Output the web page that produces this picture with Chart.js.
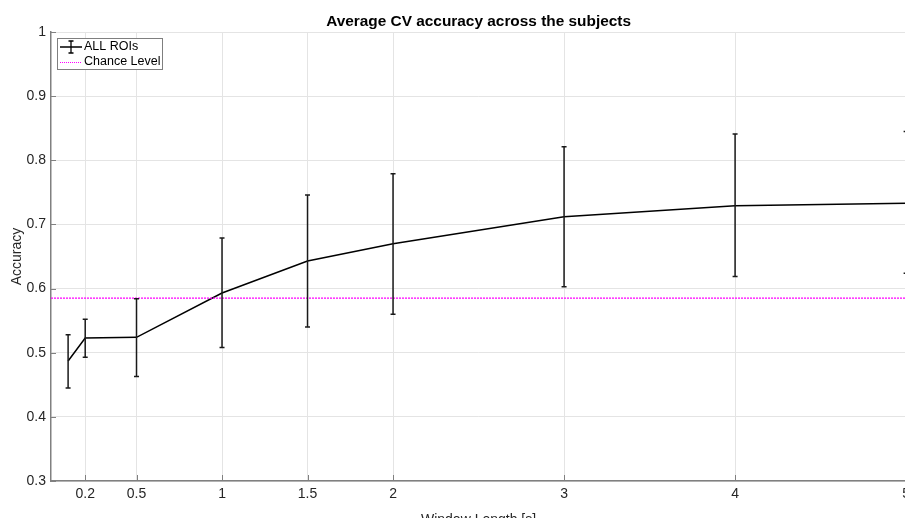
<!DOCTYPE html>
<html>
<head>
<meta charset="utf-8">
<script src="https://cdn.jsdelivr.net/npm/chart.js@4.4.0/dist/chart.umd.min.js"></script>
<style>
html, body { margin: 0; padding: 0; overflow: hidden; background: #fff; }
#wrap { position: absolute; left: 0; top: 0; width: 915px; height: 530px; }
</style>
</head>
<body>
<div id="wrap"><canvas id="accChart" width="915" height="530"></canvas></div>
<script>
// window length [s] and mean CV accuracy with error bar ends
const windowLength = [0.1, 0.2, 0.5, 1, 1.5, 2, 3, 4, 5];
const meanAcc = [0.487, 0.523, 0.524, 0.593, 0.643, 0.670, 0.712, 0.729, 0.733];
const accLower = [0.445, 0.493, 0.463, 0.508, 0.540, 0.560, 0.603, 0.619, 0.624];
const accUpper = [0.528, 0.552, 0.584, 0.679, 0.746, 0.779, 0.821, 0.841, 0.845];
const chanceLevel = 0.585;
const xTicks = [0.2, 0.5, 1, 1.5, 2, 3, 4, 5];
const chartTitle = 'Average CV accuracy across the subjects';

const FONT = "'Liberation Sans', Arial, sans-serif";
const AXIS_COLOR = '#808080';

const errorBars = {
    id: 'errorBars',
    afterDatasetsDraw(chart) {
        const ctx = chart.ctx;
        const x = chart.scales.x, y = chart.scales.y;
        ctx.save();
        ctx.strokeStyle = '#1a1a1a';
        ctx.lineWidth = 1.5;
        windowLength.forEach(function(w, i) {
            const px = x.getPixelForValue(w);
            const top = y.getPixelForValue(accUpper[i]);
            const bot = y.getPixelForValue(accLower[i]);
            ctx.beginPath();
            ctx.moveTo(px, top); ctx.lineTo(px, bot);
            ctx.moveTo(px - 2.5, top); ctx.lineTo(px + 2.5, top);
            ctx.moveTo(px - 2.5, bot); ctx.lineTo(px + 2.5, bot);
            ctx.stroke();
        });
        ctx.restore();
    }
};

// matlab style ticks pointing into the axes, title over the plot area, boxed legend
const axesExtras = {
    id: 'axesExtras',
    afterDraw(chart) {
        const ctx = chart.ctx;
        const x = chart.scales.x, y = chart.scales.y;
        const area = chart.chartArea;
        ctx.save();
        ctx.strokeStyle = AXIS_COLOR;
        ctx.lineWidth = 1;
        ctx.beginPath();
        y.ticks.forEach(function(t) {
            const py = Math.round(y.getPixelForValue(t.value)) + 0.5;
            ctx.moveTo(area.left, py); ctx.lineTo(area.left + 5, py);
        });
        x.ticks.forEach(function(t) {
            const px = Math.round(x.getPixelForValue(t.value)) + 0.5;
            ctx.moveTo(px, area.bottom); ctx.lineTo(px, area.bottom - 6);
        });
        ctx.stroke();

        ctx.fillStyle = '#000';
        ctx.font = 'bold 15.4px ' + FONT;
        ctx.textAlign = 'center';
        ctx.textBaseline = 'alphabetic';
        ctx.fillText(chartTitle, (area.left + area.right) / 2, 26);

        // legend
        const lx = 57.5, ly = 38.5, lw = 105, lh = 31;
        ctx.fillStyle = '#fff';
        ctx.fillRect(lx, ly, lw, lh);
        ctx.strokeStyle = '#7f7f7f';
        ctx.strokeRect(lx, ly, lw, lh);

        ctx.strokeStyle = '#000';
        ctx.lineWidth = 1.3;
        ctx.beginPath();
        ctx.moveTo(60, 47); ctx.lineTo(82, 47);
        ctx.moveTo(71, 41); ctx.lineTo(71, 53);
        ctx.moveTo(68.5, 41); ctx.lineTo(73.5, 41);
        ctx.moveTo(68.5, 53); ctx.lineTo(73.5, 53);
        ctx.stroke();

        ctx.strokeStyle = '#ff00ff';
        ctx.lineWidth = 1;
        ctx.setLineDash([1, 1]);
        ctx.beginPath();
        ctx.moveTo(60, 62.5); ctx.lineTo(82, 62.5);
        ctx.stroke();
        ctx.setLineDash([]);

        ctx.fillStyle = '#000';
        ctx.font = '12.5px ' + FONT;
        ctx.textBaseline = 'middle';
        ctx.textAlign = 'left';
        ctx.fillText('ALL ROIs', 84, 47);
        ctx.fillText('Chance Level', 84, 62);
        ctx.restore();
    }
};

function draw_accuracy_chart() {
    const ctx = document.getElementById('accChart').getContext('2d');
    const meanPoints = windowLength.map(function(w, i) { return {x: w, y: meanAcc[i]}; });
    const chancePoints = [{x: 0, y: chanceLevel}, {x: 5, y: chanceLevel}];

    return new Chart(ctx, {
        type: 'line',
        data: {
            datasets: [{
                label: 'Chance Level',
                data: chancePoints,
                borderColor: 'rgb(255, 0, 255)',
                backgroundColor: 'rgb(255, 0, 255)',
                borderWidth: 1.2,
                borderDash: [2, 1],
                pointRadius: 0,
                fill: false
            },
            {
                label: 'ALL ROIs',
                data: meanPoints,
                borderColor: '#000',
                backgroundColor: '#000',
                borderWidth: 1.5,
                pointRadius: 0,
                tension: 0,
                fill: false
            }]
        },
        options: {
            responsive: false,
            animation: false,
            layout: { padding: { left: 0, right: 0, top: 32, bottom: 0 } },
            plugins: {
                legend: { display: false },
                tooltip: { enabled: false },
                title: { display: false }
            },
            scales: {
                x: {
                    type: 'linear',
                    min: 0,
                    max: 5,
                    afterBuildTicks: function(scale) {
                        scale.ticks = xTicks.map(function(v) { return {value: v}; });
                    },
                    afterFit: function(scale) { scale.height = 49; },
                    ticks: {
                        color: '#262626',
                        font: { family: FONT, size: 14 },
                        padding: 5,
                        maxRotation: 0,
                        autoSkip: false,
                        callback: function(v) { return String(v); }
                    },
                    grid: { color: '#e4e4e4', drawTicks: false },
                    border: { color: AXIS_COLOR, width: 1.5 },
                    title: {
                        display: true,
                        text: 'Window Length [s]',
                        color: '#262626',
                        font: { family: FONT, size: 14 },
                        padding: { top: 0, bottom: 1.6 }
                    }
                },
                y: {
                    min: 0.3,
                    max: 1,
                    afterFit: function(scale) { scale.width = 51; },
                    ticks: {
                        stepSize: 0.1,
                        color: '#262626',
                        font: { family: FONT, size: 14 },
                        padding: 5,
                        callback: function(v) { return String(+v.toFixed(1)); }
                    },
                    grid: { color: '#e4e4e4', drawTicks: false },
                    border: { color: AXIS_COLOR, width: 1.5 },
                    title: {
                        display: true,
                        text: 'Accuracy',
                        color: '#262626',
                        font: { family: FONT, size: 14 },
                        padding: { top: 9, bottom: 0 }
                    }
                }
            }
        },
        plugins: [errorBars, axesExtras]
    });
}

var accuracy_chart = draw_accuracy_chart();
</script>
</body>
</html>
